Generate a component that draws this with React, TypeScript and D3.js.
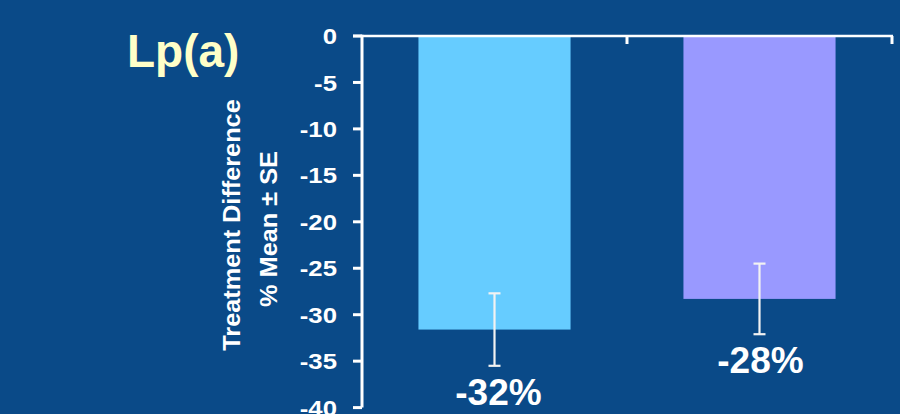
import React from "react";
import * as d3 from "d3";

// Treatment arms (not labelled on the axis) and their mean % change with SE
const categories = ["Arm 1", "Arm 2"];
const meanValues = [-31.6, -28.3];
const seValues = [3.9, 3.8];
const barColors = ["#66CCFF", "#9999FF"];
const yTicks = [0, -5, -10, -15, -20, -25, -30, -35, -40];

const W = 900;
const H = 414;
const FONT = "Arial, 'Liberation Sans', Helvetica, sans-serif";
const BG = "#0A4A88";

export default function App() {
  const y = d3.scaleLinear().domain([0, -40]).range([36, 407.6]);
  const x = d3
    .scaleBand<string>()
    .domain(categories)
    .range([362, 892])
    .paddingInner(0.426)
    .paddingOuter(0.213);

  const step = x.step();
  const axisLeft = x.range()[0];
  const axisRight = x.range()[1];
  const boundaries = categories.map((_, i) => axisLeft + step * (i + 1));
  const pct = (v: number) => `${Math.round(v)}%`;

  return (
    <svg
      width={W}
      height={H}
      style={{ position: "absolute", left: 0, top: 0, display: "block" }}
      fontFamily={FONT}
    >
      <rect x={0} y={0} width={W} height={H} fill={BG} />

      {/* Title */}
      <text x={127} y={67} fontSize={46} fontWeight="bold" fill="#FFFFC8">
        Lp(a)
      </text>

      {/* Y-axis title, two rotated lines, slightly widened glyphs */}
      <text
        transform="translate(240,225) rotate(-90) scale(1.1,1)"
        textAnchor="middle"
        fontSize={23}
        fontWeight="bold"
        fill="#FFFFFF"
      >
        Treatment Difference
      </text>
      <text
        transform="translate(277,229) rotate(-90) scale(1.1,1)"
        textAnchor="middle"
        fontSize={23}
        fontWeight="bold"
        fill="#FFFFFF"
      >
        % Mean ± SE
      </text>

      {/* Bars */}
      {categories.map((c, i) => (
        <rect
          key={c}
          x={x(c)}
          y={y(0)}
          width={x.bandwidth()}
          height={y(meanValues[i]) - y(0)}
          fill={barColors[i]}
        />
      ))}

      {/* Error bars */}
      {categories.map((c, i) => {
        const cx = (x(c) as number) + x.bandwidth() / 2;
        const top = y(meanValues[i] + seValues[i]);
        const bot = y(meanValues[i] - seValues[i]);
        return (
          <g key={c} stroke="#F2F2F2" strokeWidth={2.2}>
            <line x1={cx} x2={cx} y1={top} y2={bot} />
            <line x1={cx - 6} x2={cx + 6} y1={top} y2={top} />
            <line x1={cx - 6} x2={cx + 6} y1={bot} y2={bot} />
          </g>
        );
      })}

      {/* Value labels */}
      {categories.map((c, i) => {
        const cx = (x(c) as number) + x.bandwidth() / 2;
        const bot = y(meanValues[i] - seValues[i]);
        return (
          <text
            key={c}
            x={cx + (i === 0 ? 4 : 1)}
            y={bot + 39}
            textAnchor="middle"
            fontSize={37}
            fontWeight="bold"
            fill="#FFFFFF"
          >
            {pct(meanValues[i])}
          </text>
        );
      })}

      {/* Y axis */}
      <line
        x1={axisLeft}
        x2={axisLeft}
        y1={y(0) - 1.3}
        y2={y(-40)}
        stroke="#FFFFFF"
        strokeWidth={3}
      />
      {yTicks.map((t) => (
        <g key={t}>
          <line
            x1={axisLeft - 9}
            x2={axisLeft}
            y1={y(t)}
            y2={y(t)}
            stroke="#FFFFFF"
            strokeWidth={3}
          />
          <text
            transform={`translate(337,${y(t)}) scale(1.17,1)`}
            dy="0.37em"
            textAnchor="end"
            fontSize={22}
            fontWeight="bold"
            fill="#FFFFFF"
          >
            {t}
          </text>
        </g>
      ))}

      {/* X axis along zero with category dividers */}
      <line
        x1={axisLeft - 9}
        x2={axisRight + 1}
        y1={y(0)}
        y2={y(0)}
        stroke="#FFFFFF"
        strokeWidth={2.7}
      />
      {boundaries.map((bx) => (
        <line
          key={bx}
          x1={bx}
          x2={bx}
          y1={y(0)}
          y2={y(0) + 8}
          stroke="#FFFFFF"
          strokeWidth={3}
        />
      ))}
    </svg>
  );
}
